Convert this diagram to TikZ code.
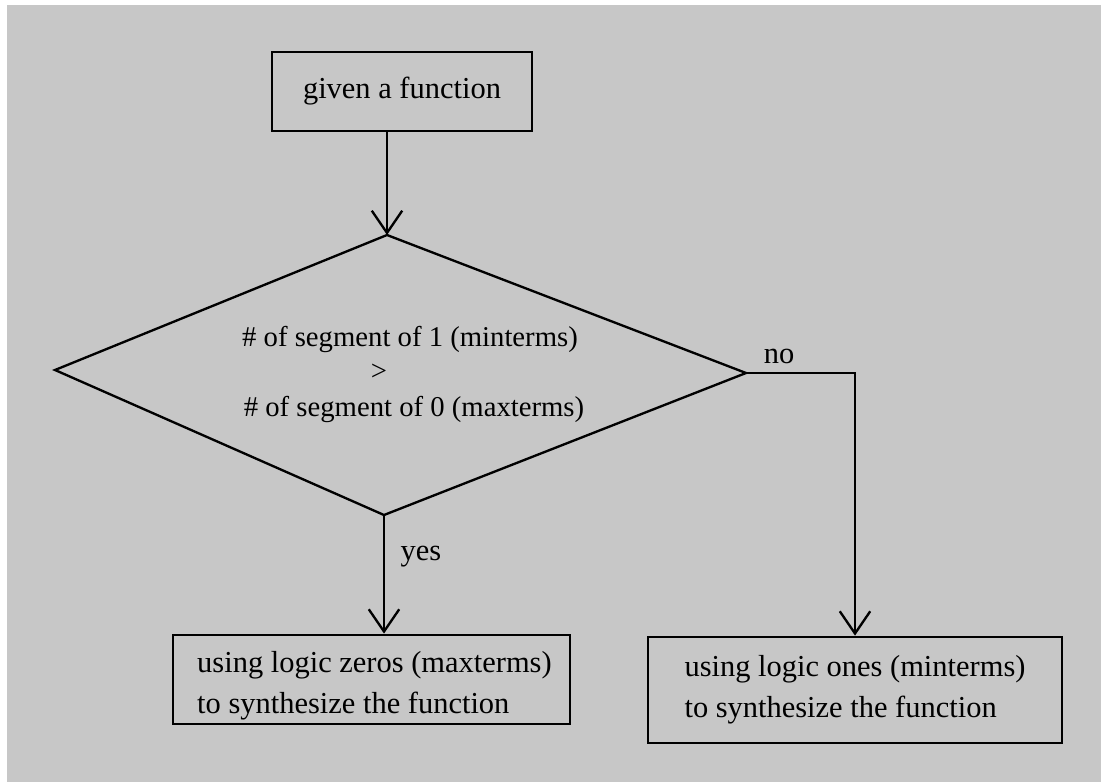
\documentclass[tikz,border=0pt]{standalone}
\usepackage{fontspec}
\setmainfont{Liberation Serif}
\usetikzlibrary{arrows.meta}
\definecolor{scangray}{gray}{0.78}

\begin{document}
\begin{tikzpicture}[x=0.03cm, y=-0.03cm,
        lbl/.style={font=\fontsize{26}{35}\selectfont},
        cmplbl/.style={font=\fontsize{24.5}{30}\selectfont},
        box/.style={draw, lbl, line width=2.4pt, align=left},
        conn/.style={line width=2pt},
        arr/.style={conn, -{Straight Barb[length=19pt, width=26pt, line width=2pt]}}]
            \fill[white] (0,0) rectangle (1101,782);
            \fill[scangray] (7,5) rectangle (1101,782);
            \node[box, minimum width=7.8cm, minimum height=2.37cm] (given) at (402,91.5) {given a function};
            \coordinate (dtop) at (387,235);
            \coordinate (dleft) at (55,370);
            \coordinate (dright) at (746,373);
            \coordinate (dbot) at (384,515);
            \draw[conn] (dtop) -- (dright) -- (dbot) -- (dleft) -- cycle;
            \node[cmplbl, anchor=base] (cmpa) at (410,346) {\# of segment of 1 (minterms)};
            \node[cmplbl, anchor=base] (cmpgt) at (379,380) {>};
            \node[cmplbl, anchor=base] (cmpb) at (414,416) {\# of segment of 0 (maxterms)};
            \node[box, minimum width=11.91cm, minimum height=2.67cm] (zeros) at (371.5,679.5) {};
            \node[lbl, align=left, anchor=base west, inner sep=0pt] (zerostxt) at (197,713) {using logic zeros (maxterms)\\to synthesize the function};
            \node[box, minimum width=12.42cm, minimum height=3.18cm] (ones) at (855,690) {using logic ones (minterms)\\to synthesize the function};
            \node[lbl, anchor=base] (no) at (779,363) {no};
            \node[lbl, anchor=base] (yes) at (421,560) {yes};
            \draw[arr] (given.south -| dtop) -- (dtop);
            \draw[arr] (dbot) -- (zeros.north -| dbot);
            \draw[arr] (dright) -| (ones.north);
        \end{tikzpicture}
\end{document}
